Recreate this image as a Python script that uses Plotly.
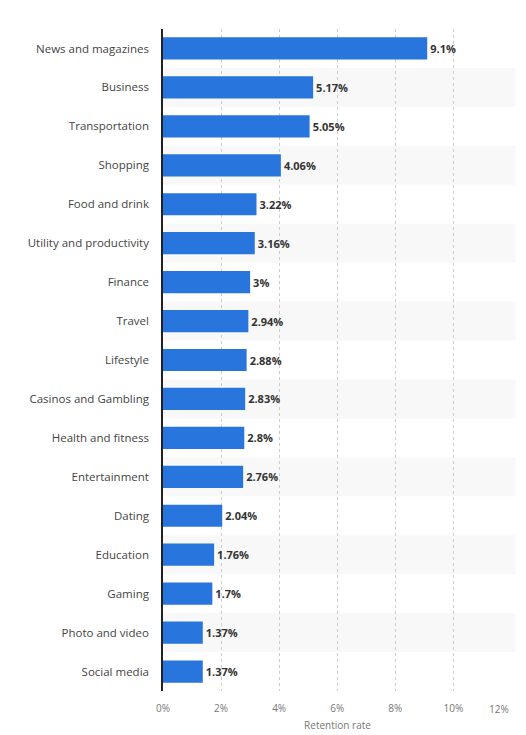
import plotly.graph_objects as go

categories = ["News and magazines", "Business", "Transportation", "Shopping", "Food and drink",
              "Utility and productivity", "Finance", "Travel", "Lifestyle", "Casinos and Gambling",
              "Health and fitness", "Entertainment", "Dating", "Education", "Gaming",
              "Photo and video", "Social media"]
values = [9.1, 5.17, 5.05, 4.06, 3.22, 3.16, 3.0, 2.94, 2.88, 2.83, 2.8, 2.76, 2.04, 1.76, 1.7, 1.37, 1.37]
tick_vals = [0, 2, 4, 6, 8, 10, 12]
tick_text = ["0%", "2%", "4%", "6%", "8%", "10%", "12%"]
x_title = "Retention rate"

labels = [f"{v:g}%" for v in values]

fig = go.Figure(go.Bar(
    x=values, y=categories, orientation="h",
    marker=dict(color="#2876dd", line=dict(width=0)),
    text=labels, textposition="outside", cliponaxis=False,
    textfont=dict(family="Open Sans", size=11, color="#333333", weight="bold"),
))

shapes = []
for i in range(len(categories)):
    if i % 2 == 1:
        shapes.append(dict(type="rect", xref="paper", yref="y", x0=0, x1=1.01,
                           y0=i - 0.5, y1=i + 0.5, fillcolor="#f8f8f8",
                           line=dict(width=0), layer="below"))

# the last tick label sits right-aligned to its gridline, like the reference
axis_ticktext = tick_text[:-1] + [""]
fig.add_annotation(x=tick_vals[-1], y=0, xref="x", yref="paper", text=tick_text[-1],
                   xanchor="right", yanchor="top", yshift=-9, showarrow=False,
                   font=dict(family="Open Sans", size=10, color="#777777"))

# page body has an 8px default margin, so the figure is sized to fit the 526x735 window
fig.update_layout(
    width=518, height=727,
    margin=dict(l=155, r=14, t=21, b=44, autoexpand=False),
    paper_bgcolor="white", plot_bgcolor="white",
    bargap=0.43,
    showlegend=False,
    shapes=shapes,
    font=dict(family="Open Sans", size=11, color="#555555"),
    xaxis=dict(range=[0, 12.02], tickvals=tick_vals, ticktext=axis_ticktext, automargin=False,
               showgrid=True, gridcolor="#cccccc", griddash="dot", gridwidth=1,
               zeroline=False, showline=False, ticklabelstandoff=10,
               tickfont=dict(size=10, color="#777777"),
               title=dict(text=x_title, font=dict(size=10, color="#777777"), standoff=7)),
    yaxis=dict(autorange="reversed", showline=True, linecolor="#222222", linewidth=1.5,
               ticks="", ticklabelstandoff=10, automargin=False,
               tickfont=dict(size=11.5, color="#444444"), showgrid=False),
)

fig.write_html("out.html")
